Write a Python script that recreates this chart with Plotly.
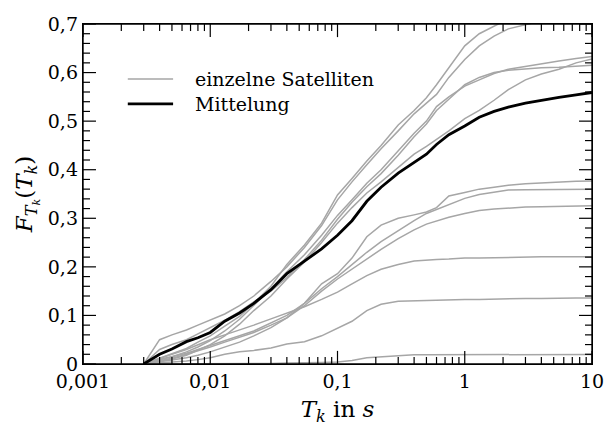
import math
import plotly.graph_objects as go

# Wartezeit T_k in s (gemeinsames Raster für alle Kurven)
t_k = [0.003, 0.004, 0.005, 0.0065, 0.008, 0.01, 0.013, 0.017, 0.022, 0.03,
       0.04, 0.055, 0.075, 0.1, 0.13, 0.17, 0.22, 0.3, 0.4, 0.5,
       0.6, 0.75, 1.0, 1.3, 1.7, 2.2, 3.0, 4.0, 5.5, 7.5, 10.0]

# Verteilungsfunktionen der einzelnen Satelliten
sat_a = [0, 0.012, 0.02, 0.032, 0.045, 0.058, 0.078, 0.098, 0.125, 0.16,
         0.205, 0.245, 0.29, 0.348, 0.382, 0.418, 0.45, 0.492, 0.522, 0.548,
         0.575, 0.61, 0.655, 0.68, 0.696, 0.712, 0.73, 0.745, 0.76, 0.77, 0.78]
sat_b = [0, 0.05, 0.06, 0.07, 0.08, 0.09, 0.103, 0.12, 0.14, 0.17,
         0.2, 0.24, 0.285, 0.338, 0.375, 0.41, 0.443, 0.48, 0.515, 0.537,
         0.555, 0.59, 0.627, 0.655, 0.675, 0.69, 0.698, 0.705, 0.715, 0.728, 0.74]
sat_c = [0, 0.008, 0.015, 0.025, 0.035, 0.048, 0.068, 0.092, 0.12, 0.155,
         0.19, 0.225, 0.265, 0.306, 0.338, 0.372, 0.4, 0.44, 0.475, 0.5,
         0.53, 0.55, 0.572, 0.585, 0.598, 0.607, 0.613, 0.618, 0.624, 0.629, 0.633]
sat_d = [0, 0.03, 0.04, 0.05, 0.062, 0.075, 0.09, 0.108, 0.128, 0.15,
         0.178, 0.215, 0.255, 0.298, 0.333, 0.365, 0.392, 0.43, 0.468, 0.494,
         0.522, 0.545, 0.575, 0.59, 0.6, 0.605, 0.608, 0.61, 0.611, 0.613, 0.615]
sat_e = [0, 0.005, 0.01, 0.018, 0.028, 0.04, 0.058, 0.082, 0.11, 0.14,
         0.175, 0.21, 0.25, 0.29, 0.322, 0.352, 0.375, 0.405, 0.432, 0.448,
         0.462, 0.48, 0.505, 0.522, 0.543, 0.565, 0.585, 0.597, 0.607, 0.62, 0.628]
sat_f = [0, 0.004, 0.008, 0.013, 0.018, 0.025, 0.035, 0.045, 0.058, 0.075,
         0.095, 0.125, 0.165, 0.186, 0.218, 0.262, 0.286, 0.3, 0.307, 0.313,
         0.322, 0.346, 0.353, 0.36, 0.364, 0.368, 0.371, 0.373, 0.375, 0.376, 0.377]
sat_g = [0, 0.01, 0.015, 0.022, 0.03, 0.038, 0.048, 0.058, 0.068, 0.085,
         0.1, 0.125, 0.155, 0.18, 0.205, 0.23, 0.252, 0.275, 0.295, 0.31,
         0.318, 0.328, 0.341, 0.349, 0.354, 0.358, 0.359, 0.359, 0.36, 0.36, 0.36]
sat_h = [0, 0.006, 0.012, 0.02, 0.028, 0.035, 0.045, 0.055, 0.065, 0.08,
         0.095, 0.12, 0.15, 0.175, 0.195, 0.217, 0.236, 0.258, 0.276, 0.288,
         0.295, 0.302, 0.31, 0.316, 0.319, 0.321, 0.323, 0.324, 0.325, 0.325, 0.326]
sat_i = [0, 0.012, 0.02, 0.03, 0.04, 0.05, 0.06, 0.07, 0.08, 0.093,
         0.105, 0.118, 0.133, 0.148, 0.165, 0.182, 0.195, 0.205, 0.212, 0.214,
         0.215, 0.216, 0.218, 0.218, 0.219, 0.22, 0.22, 0.221, 0.221, 0.221, 0.221]
sat_j = [0, 0.002, 0.004, 0.006, 0.009, 0.013, 0.02, 0.025, 0.028, 0.033,
         0.041, 0.046, 0.058, 0.073, 0.088, 0.11, 0.123, 0.129, 0.13, 0.131,
         0.132, 0.132, 0.133, 0.133, 0.134, 0.135, 0.135, 0.135, 0.136, 0.136, 0.136]
sat_k = [0, 0, 0, 0, 0, 0, 0, 0.001, 0.001, 0.001,
         0.002, 0.002, 0.003, 0.004, 0.007, 0.013, 0.015, 0.016, 0.019, 0.019,
         0.019, 0.019, 0.0195, 0.0195, 0.0195, 0.0195, 0.0196, 0.0196, 0.0196, 0.0196, 0.0196]

satellites = [sat_a, sat_b, sat_c, sat_d, sat_e, sat_f,
              sat_g, sat_h, sat_i, sat_j, sat_k]

# gemittelte Verteilungsfunktion
mittelung = [0, 0.02, 0.031, 0.046, 0.054, 0.065, 0.088, 0.105, 0.125, 0.153,
             0.186, 0.212, 0.237, 0.265, 0.295, 0.335, 0.364, 0.393, 0.414, 0.432,
             0.452, 0.472, 0.49, 0.508, 0.52, 0.529, 0.537, 0.543, 0.549, 0.554, 0.559]

legend_labels = ["einzelne Satelliten", "Mittelung"]

# Achsenteilung
X_RANGE_LOG = (-3, 1)
Y_RANGE = (0, 0.7)
x_major = [0.001, 0.01, 0.1, 1, 10]
x_major_text = ["0,001", "0,01", "0,1", "1", "10"]
y_major = [0, 0.1, 0.2, 0.3, 0.4, 0.5, 0.6, 0.7]
y_major_text = ["0", "0,1", "0,2", "0,3", "0,4", "0,5", "0,6", "0,7"]
x_minor = [m * 10.0 ** e for e in range(-3, 1) for m in range(2, 10)]
y_minor = [round(i * 0.02, 2) for i in range(36) if i % 5 != 0]

FONT = "DejaVu Serif"
GRAY = "#a6a6a6"
BLACK = "black"

# Strichlängen: vertikal in y-Einheiten, horizontal in Dekaden
X_TICK_MAJOR, X_TICK_MINOR = 0.027, 0.0145
Y_TICK_MAJOR, Y_TICK_MINOR = 0.102, 0.055

fig = go.Figure()
for sat in satellites:
    fig.add_trace(go.Scatter(
        x=t_k, y=sat, mode="lines",
        line=dict(color=GRAY, width=1.5),
        name=legend_labels[0], showlegend=False, hoverinfo="skip",
    ))
fig.add_trace(go.Scatter(
    x=t_k, y=mittelung, mode="lines",
    line=dict(color=BLACK, width=2.8),
    name=legend_labels[1], showlegend=False,
))

# Teilstriche als eine Linienspur (Segmente durch None getrennt)
tick_x, tick_y = [], []
y_lo, y_hi = Y_RANGE
for values, length in ((x_major, X_TICK_MAJOR), (x_minor, X_TICK_MINOR)):
    for v in values:
        tick_x += [v, v, None, v, v, None]
        tick_y += [y_lo, y_lo + length, None, y_hi, y_hi - length, None]
x_lo_log, x_hi_log = X_RANGE_LOG
for values, length in ((y_major, Y_TICK_MAJOR), (y_minor, Y_TICK_MINOR)):
    for v in values:
        tick_x += [10 ** x_lo_log, 10 ** (x_lo_log + length), None,
                   10 ** x_hi_log, 10 ** (x_hi_log - length), None]
        tick_y += [v, v, None, v, v, None]
fig.add_trace(go.Scatter(
    x=tick_x, y=tick_y, mode="lines", connectgaps=False,
    line=dict(color=BLACK, width=1.2), showlegend=False, hoverinfo="skip",
))

# Rahmen um das Diagramm
fig.add_shape(type="rect", xref="x domain", yref="y domain",
              x0=0, x1=1, y0=0, y1=1,
              line=dict(color=BLACK, width=1.4), layer="above")

# Legende: Linienmuster und Beschriftung oben links im Diagramm
legend_rows = [(0.838, GRAY, 1.5, legend_labels[0]),
               (0.765, BLACK, 2.8, legend_labels[1])]
for ypos, color, width, label in legend_rows:
    fig.add_shape(type="line", xref="paper", yref="paper",
                  x0=0.088, x1=0.177, y0=ypos, y1=ypos,
                  line=dict(color=color, width=width))
    fig.add_annotation(xref="paper", yref="paper", x=0.216, y=ypos,
                       xanchor="left", yanchor="middle", showarrow=False,
                       text=label, font=dict(family=FONT, size=19, color="black"))

fig.update_layout(
    template="none",
    width=606, height=426,
    margin=dict(l=83, r=14, t=24, b=62),
    paper_bgcolor="white", plot_bgcolor="white",
    font=dict(family=FONT, size=19, color="black"),
    showlegend=False,
    xaxis=dict(
        type="log", range=list(X_RANGE_LOG),
        tickmode="array", tickvals=x_major, ticktext=x_major_text,
        ticks="", showline=True, linecolor=BLACK, linewidth=1.4, mirror=True,
        showgrid=False, zeroline=False,
        title=dict(text="<i>T</i><sub><i>k</i></sub> in <i>s</i>", standoff=10),
    ),
    yaxis=dict(
        range=list(Y_RANGE),
        tickmode="array", tickvals=y_major, ticktext=y_major_text,
        ticks="", showline=True, linecolor=BLACK, linewidth=1.4, mirror=True,
        showgrid=False, zeroline=False,
        title=dict(text="<i>F</i><sub><i>T</i><sub><i>k</i></sub></sub>(<i>T</i><sub><i>k</i></sub>)",
                   standoff=8),
    ),
)

fig.write_html("out.html")
